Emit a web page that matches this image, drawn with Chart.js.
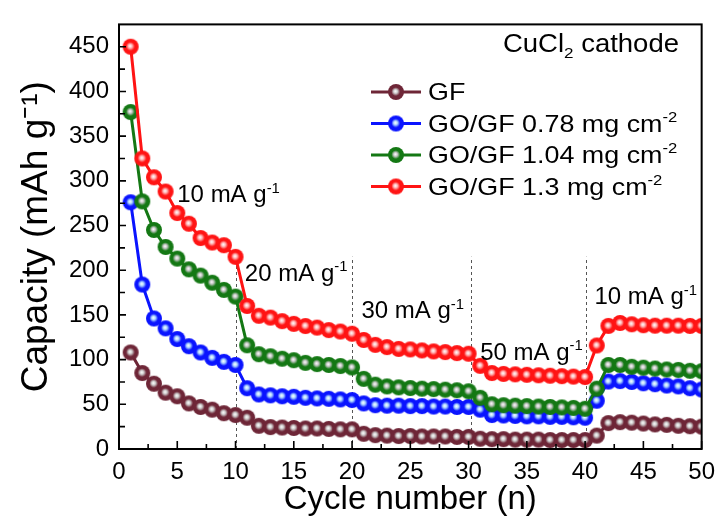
<!DOCTYPE html>
<html><head><meta charset="utf-8">
<script src="https://cdn.jsdelivr.net/npm/chart.js@4.4.1/dist/chart.umd.min.js"></script>
<style>html,body{margin:0;padding:0;background:#fff;}#wrap{width:724px;height:523px;}</style>
</head><body><div id="wrap"><canvas id="c" width="724" height="523"></canvas></div>
<script>
const cycles = [1,2,3,4,5,6,7,8,9,10,11,12,13,14,15,16,17,18,19,20,21,22,23,24,25,26,27,28,29,30,31,32,33,34,35,36,37,38,39,40,41,42,43,44,45,46,47,48,49,50];
const gfCapacity = [108,85,73,63,59,51,47,44,40,38,35,26,24.5,24,23.5,23,23,22.5,22,22,17,15.5,15,14.5,14.5,14,14,14,13.5,13.5,11.5,11,11,10.5,10.5,10.5,10,10,10,10,15,29,30,29.5,28.5,27.5,27,26,25.5,25];
const go078Capacity = [276,184,146,135,123,115,108,102,97.5,94,68,61,60,59,58.4,57.3,56.6,56.2,55.5,54.8,51,49,48.5,48.5,48,48,47.5,47.5,47,47,44,38,37.5,37,36.5,36.5,36,36,35.5,35,54,75.5,76,75,73.5,72.5,71,70,68,66.5];
const go104Capacity = [377,277,245,226,213,201,194,186,178,170.5,116,106,103.7,101,99.3,96.4,95,94,92.8,91.2,78.5,72,70,69,68.2,67.5,67,66.4,65.7,64.6,57.3,50,49,48.5,48,47.5,47,46.5,46,45,67.5,94,94,92,91,90,89,88.5,87.5,87];
const go130Capacity = [450,325,304,288,264,252,236,231,228,215,160,149,147,143,140,137.6,135.8,133,131.4,129,122,116.5,114,112,111.4,110.3,109.2,108.4,107.3,106.6,93,85,84,83.5,83,82.5,82,81.5,81,80.5,115.8,137.7,141,139.5,138.5,138,138,138,137.7,137.7];
const seriesLabels = ['GF','GO/GF 0.78 mg cm⁻²','GO/GF 1.04 mg cm⁻²','GO/GF 1.3 mg cm⁻²'];
const xTicks = [0,5,10,15,20,25,30,35,40,45,50];
const yTicks = [0,50,100,150,200,250,300,350,400,450];
const rateLabels = ['10 mA g⁻¹','20 mA g⁻¹','30 mA g⁻¹','50 mA g⁻¹','10 mA g⁻¹'];
const rateBoundaries = [10,20,30.2,40.1];
const panelTitle = 'CuCl₂ cathode';

// styles / placement (not data)
const FONT = '"Liberation Sans", Arial, sans-serif';
const colors = ['#6e2637','#0a14ff','#147814','#ff1414'];
const highlights = ['#d0d0d0','#b0daff','#c8c8c8','#ffbcbc'];
const ratePos = [[5.0,276],[10.8,188],[20.8,146],[31.0,100],[40.8,162]]; // [cycle, capacity] of text baseline-left
const dividerTop = 215;

function makeBall(base, hi, r){
  const d = Math.ceil(r*2)+2;
  const c = document.createElement('canvas'); c.width=d; c.height=d;
  const g = c.getContext('2d');
  const cx=d/2, cy=d/2;
  const gr = g.createRadialGradient(cx-0.6, cy-0.8, 0, cx, cy, r);
  gr.addColorStop(0,'#ffffff');
  gr.addColorStop(0.24,hi);
  gr.addColorStop(0.55,base);
  gr.addColorStop(1,base);
  g.fillStyle=gr; g.beginPath(); g.arc(cx,cy,r,0,Math.PI*2); g.fill();
  return c;
}
const balls = colors.map((c,i)=>makeBall(c,highlights[i],8));

const supMap = {'⁻':'-','¹':'1','²':'2'};
const subMap = {'₂':'2'};
function richRuns(text){
  const runs=[]; let cur=null;
  for(const ch of text){
    let t='n', v=ch;
    if(supMap[ch]){t='sup'; v=supMap[ch];}
    else if(subMap[ch]){t='sub'; v=subMap[ch];}
    if(cur && cur.t===t) cur.s+=v; else {cur={t,s:v}; runs.push(cur);}
  }
  return runs;
}
function drawRich(ctx, text, x, y, size, align, stretch){
  stretch = stretch || 1;
  const runs = richRuns(text);
  const fs = r => r.t==='n'? size : size*0.62;
  let w=0;
  runs.forEach(r=>{ctx.font=fs(r)+'px '+FONT; r.w=ctx.measureText(r.s).width; w+=r.w;});
  ctx.save();
  const x0 = align==='right'? x - w*stretch : x;
  ctx.translate(x0, y); ctx.scale(stretch, 1);
  let cx = 0;
  ctx.textBaseline='alphabetic'; ctx.textAlign='left';
  runs.forEach(r=>{
    ctx.font=fs(r)+'px '+FONT;
    let yy=0;
    if(r.t==='sup') yy = -size*0.40;
    if(r.t==='sub') yy = size*0.22;
    ctx.fillText(r.s, cx, yy);
    cx+=r.w;
  });
  ctx.restore();
}

const decor = {
  id:'decor',
  beforeDatasetsDraw(chart){
    const {ctx, scales:{x,y}} = chart;
    ctx.save();
    ctx.strokeStyle='#555'; ctx.lineWidth=1; ctx.setLineDash([3,3]);
    rateBoundaries.forEach(b=>{
      const px = Math.round(x.getPixelForValue(b))+0.5;
      ctx.beginPath(); ctx.moveTo(px, y.getPixelForValue(0)); ctx.lineTo(px, y.getPixelForValue(dividerTop)); ctx.stroke();
    });
    ctx.restore();
  },
  afterDraw(chart){
    const {ctx, chartArea:a, scales:{x,y}} = chart;
    ctx.save();
    ctx.strokeStyle='#000'; ctx.lineWidth=2;
    ctx.strokeRect(a.left, a.top, a.right-a.left, a.bottom-a.top);
    ctx.lineWidth=1.6;
    ctx.beginPath();
    xTicks.forEach((v,i)=>{
      const px=x.getPixelForValue(v);
      ctx.moveTo(px,a.bottom); ctx.lineTo(px,a.bottom-8);
      if(i<xTicks.length-1){
        const m=x.getPixelForValue((v+xTicks[i+1])/2);
        ctx.moveTo(m,a.bottom); ctx.lineTo(m,a.bottom-5);
      }
    });
    yTicks.forEach((v)=>{
      const py=y.getPixelForValue(v);
      ctx.moveTo(a.left,py); ctx.lineTo(a.left+7,py);
      const m=y.getPixelForValue(v+25);
      if(m>a.top){ ctx.moveTo(a.left,m); ctx.lineTo(a.left+6,m); }
    });
    ctx.stroke();
    ctx.fillStyle='#000';
    rateLabels.forEach((t,i)=>{
      drawRich(ctx, t, x.getPixelForValue(ratePos[i][0]), y.getPixelForValue(ratePos[i][1]), 24, 'left');
    });
    drawRich(ctx, panelTitle, 679, 52, 25, 'right', 1.1);
    chart.data.datasets.forEach((ds,i)=>{
      const cy = 92 + i*31.5;
      ctx.strokeStyle=colors[i]; ctx.lineWidth=3;
      ctx.beginPath(); ctx.moveTo(371,cy); ctx.lineTo(421,cy); ctx.stroke();
      const b=balls[i]; ctx.drawImage(b, 396-b.width/2, cy-b.height/2);
      ctx.fillStyle='#000';
      drawRich(ctx, ds.label, 428, cy+8, 24, 'left', 1.12);
    });
    ctx.restore();
  }
};

const series = [gfCapacity, go078Capacity, go104Capacity, go130Capacity];
const datasets = series.map((vals,i)=>({
  label: seriesLabels[i],
  data: cycles.map((c,k)=>({x:c, y:vals[k]})),
  borderColor: colors[i],
  borderWidth: 3,
  pointStyle: balls[i],
  pointRadius: 8,
  order: 4-i,
  tension: 0
}));

new Chart(document.getElementById('c'), {
  type:'line',
  data:{datasets},
  options:{
    responsive:false, animation:false, devicePixelRatio:1,
    layout:{padding:{left:0,right:19,top:15,bottom:0}},
    plugins:{legend:{display:false}, tooltip:{enabled:false}},
    scales:{
      x:{type:'linear', min:0, max:50,
        afterFit(s){ s.height = 74; },
        grid:{display:false, drawTicks:false}, border:{display:false},
        ticks:{stepSize:5, includeBounds:false, padding:9, color:'#000', font:{family:FONT, size:24}, maxRotation:0,
          callback:v=> xTicks.includes(v)? String(v):''},
        title:{display:true, text:'Cycle number (n)', color:'#000', font:{family:FONT, size:33}, padding:{top:0,bottom:3}}
      },
      y:{type:'linear', min:0, max:475,
        afterFit(s){ s.width = 119; },
        grid:{display:false, drawTicks:false}, border:{display:false},
        ticks:{stepSize:50, includeBounds:false, padding:10, color:'#000', font:{family:FONT, size:24},
          callback:v=> yTicks.includes(v)? String(v):''},
        title:{display:true, text:'Capacity (mAh g⁻¹)', color:'#000', font:{family:FONT, size:37}, padding:{top:15,bottom:0}}
      }
    }
  },
  plugins:[decor]
});
</script></body></html>
